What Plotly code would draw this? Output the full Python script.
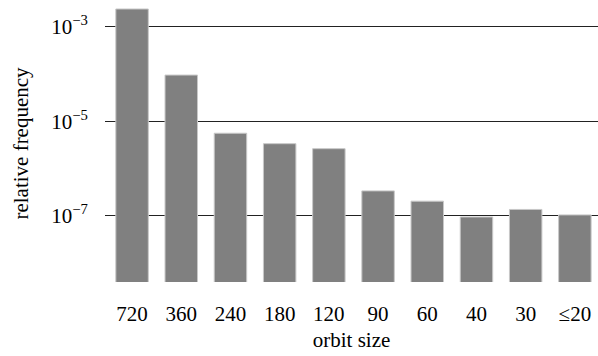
import plotly.graph_objects as go

categories = ["720", "360", "240", "180", "120", "90", "60", "40", "30", "≤20"]
frequency = [2.37e-3, 9.5e-5, 5.6e-6, 3.37e-6, 2.64e-6, 3.38e-7, 2.05e-7, 9.5e-8, 1.37e-7, 1.05e-7]
ytick_vals = [1e-7, 1e-5, 1e-3]
ytick_text = ["10<sup>−7</sup>", "10<sup>−5</sup>", "10<sup>−3</sup>"]

font_family = "Liberation Serif"

fig = go.Figure(
    go.Bar(
        x=categories,
        y=frequency,
        marker=dict(color="#808080", line=dict(color="#c8c8c8", width=1)),
        width=0.66,
    )
)

fig.update_layout(
    width=598,
    height=356,
    margin=dict(l=105, r=0, t=5, b=74),
    plot_bgcolor="white",
    paper_bgcolor="white",
    showlegend=False,
    font=dict(family=font_family, size=19, color="black"),
    xaxis=dict(
        type="category",
        range=[-0.55, 9.47],
        showgrid=False,
        showline=False,
        zeroline=False,
        ticks="outside",
        ticklen=13,
        tickcolor="rgba(0,0,0,0)",
        tickfont=dict(size=21),
        title=dict(text="orbit size", font=dict(size=21), standoff=7),
    ),
    yaxis=dict(
        type="log",
        range=[-8.397, -2.541],
        tickvals=ytick_vals,
        ticktext=ytick_text,
        showgrid=True,
        gridcolor="#222222",
        gridwidth=1,
        showline=False,
        zeroline=False,
        ticks="outside",
        ticklen=12,
        tickcolor="rgba(0,0,0,0)",
        tickfont=dict(size=21),
        title=dict(text="relative frequency", font=dict(size=21), standoff=16),
    ),
)

fig.write_html(
    "out.html",
    config={"displayModeBar": False},
    post_script="document.body.style.margin='0px';",
)
